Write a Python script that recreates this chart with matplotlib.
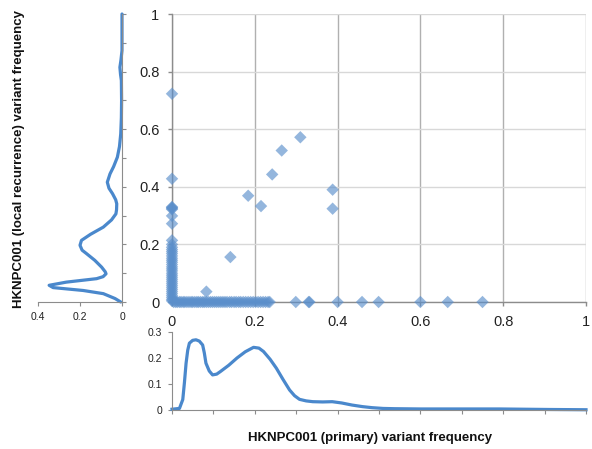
import matplotlib
matplotlib.use("Agg")
import matplotlib.pyplot as plt
from matplotlib.ticker import MultipleLocator

# ---- data ----
# variants with frequency 0 in the primary (column at x = 0)
col_x = [0.0] * 37
col_y = [0.723, 0.428, 0.330, 0.328, 0.325, 0.322, 0.299, 0.272, 0.214, 0.200,
         0.190, 0.182, 0.175, 0.168, 0.160, 0.152, 0.145, 0.138, 0.130, 0.122,
         0.115, 0.108, 0.100, 0.093, 0.086, 0.079, 0.072, 0.065, 0.058, 0.051,
         0.044, 0.037, 0.030, 0.023, 0.016, 0.009, 0.004]
# variants with frequency 0 in the recurrence (row at y = 0)
row_x = [0.004, 0.009, 0.013, 0.018, 0.022, 0.027, 0.031, 0.036, 0.041, 0.046,
         0.050, 0.055, 0.060, 0.064, 0.069, 0.074, 0.078, 0.083, 0.088, 0.093,
         0.098, 0.103, 0.108, 0.113, 0.118, 0.123, 0.128, 0.133, 0.139, 0.144,
         0.150, 0.155, 0.161, 0.166, 0.172, 0.178, 0.184, 0.190, 0.196, 0.202,
         0.208, 0.214, 0.220, 0.226, 0.232, 0.236, 0.299, 0.330, 0.332, 0.400,
         0.459, 0.499, 0.600, 0.666, 0.750]
row_y = [0.0] * 55
# variants present in both samples
both_x = [0.083, 0.141, 0.184, 0.215, 0.242, 0.265, 0.310, 0.388, 0.388]
both_y = [0.036, 0.156, 0.369, 0.333, 0.443, 0.526, 0.572, 0.390, 0.324]

# density of primary variant frequency (bottom panel)
dens_x_grid = [0.000, 0.018, 0.026, 0.030, 0.034, 0.038, 0.042, 0.050, 0.058, 0.066,
               0.074, 0.078, 0.082, 0.090, 0.098, 0.108, 0.117, 0.137, 0.157, 0.177,
               0.197, 0.210, 0.221, 0.237, 0.252, 0.268, 0.284, 0.296, 0.308, 0.324,
               0.340, 0.364, 0.387, 0.410, 0.435, 0.460, 0.483, 0.510, 0.538, 0.600,
               0.673, 0.790, 0.910, 1.000]
dens_x_val = [0.003, 0.006, 0.040, 0.105, 0.180, 0.230, 0.257, 0.268, 0.270, 0.265,
              0.250, 0.220, 0.180, 0.150, 0.135, 0.138, 0.148, 0.172, 0.200, 0.224,
              0.241, 0.238, 0.225, 0.195, 0.161, 0.118, 0.077, 0.055, 0.041, 0.035,
              0.032, 0.031, 0.032, 0.027, 0.019, 0.013, 0.009, 0.006, 0.005, 0.004,
              0.004, 0.004, 0.002, 0.001]

# density of recurrence variant frequency (left panel)
dens_y_grid = [1.000, 0.873, 0.840, 0.815, 0.790, 0.769, 0.699, 0.640, 0.584, 0.540,
               0.503, 0.470, 0.445, 0.416, 0.395, 0.376, 0.355, 0.341, 0.320, 0.306,
               0.285, 0.260, 0.235, 0.214, 0.197, 0.180, 0.168, 0.145, 0.121, 0.105,
               0.098, 0.088, 0.081, 0.069, 0.058, 0.050, 0.040, 0.029, 0.012, 0.000]
dens_y_val = [0.000, 0.000, 0.005, 0.010, 0.007, 0.003, 0.002, 0.003, 0.006, 0.012,
              0.022, 0.040, 0.057, 0.070, 0.062, 0.045, 0.030, 0.025, 0.026, 0.029,
              0.050, 0.089, 0.150, 0.193, 0.200, 0.190, 0.169, 0.130, 0.097, 0.080,
              0.076, 0.090, 0.121, 0.265, 0.347, 0.328, 0.185, 0.089, 0.033, 0.006]

x_label = "HKNPC001 (primary) variant frequency"
y_label = "HKNPC001 (local recurrence) variant frequency"

# ---- style ----
FONT = "Liberation Sans"
plt.rcParams["font.family"] = [FONT, "DejaVu Sans"]
line_col = "#4a88cc"
mark_col = "#5b8fcb"
spine_col = "#8c8c8c"
text_col = "#222222"

fig = plt.figure(figsize=(5.92, 4.49), dpi=100)
W, H = 592.0, 449.0

def rect(l, t, r, b):
    return [l / W, 1 - b / H, (r - l) / W, (b - t) / H]

R = 586

# main scatter
ax = fig.add_axes(rect(172, 14, R, 302))
ax.set_xlim(0, 1)
ax.set_ylim(0, 1)
ax.grid(True, axis="x", color="#b0b0b0", lw=1.0)
ax.grid(True, axis="y", color="#d8d8d8", lw=1.0)
ax.set_axisbelow(True)
for s in ("top", "right"):
    ax.spines[s].set_visible(False)
for s in ("left", "bottom"):
    ax.spines[s].set_color(spine_col)
    ax.spines[s].set_linewidth(1.0)
ax.tick_params(axis="both", colors=spine_col, length=3, width=1, labelsize=10.5,
               labelcolor=text_col, pad=6)
ax.set_xticks([0, 0.2, 0.4, 0.6, 0.8, 1.0])
ax.set_xticklabels(["0", "0.2", "0.4", "0.6", "0.8", "1"])
ax.set_yticks([0, 0.2, 0.4, 0.6, 0.8, 1.0])
ax.set_yticklabels(["0", "0.2", "0.4", "0.6", "0.8", "1"])

kw = dict(marker="D", s=40, color=mark_col, alpha=0.65, edgecolors="none",
          clip_on=False, zorder=3)
ax.scatter(row_x, row_y, **kw)
ax.scatter(col_x, col_y, **kw)
ax.scatter(both_x, both_y, **kw)

# left density
axl = fig.add_axes(rect(38, 14, 122, 302))
axl.plot(dens_y_val, dens_y_grid, color=line_col, lw=2.3, solid_capstyle="round",
         clip_on=False)
axl.set_xlim(0.4, 0)
axl.set_ylim(0, 1)
for s in ("top", "left"):
    axl.spines[s].set_visible(False)
for s in ("right", "bottom"):
    axl.spines[s].set_color(spine_col)
axl.yaxis.tick_right()
axl.yaxis.set_major_locator(MultipleLocator(0.1))
axl.tick_params(axis="y", colors=spine_col, length=3, labelright=False)
axl.set_xticks([0.4, 0.2, 0])
axl.set_xticklabels(["0.4", "0.2", "0"])
axl.tick_params(axis="x", colors=spine_col, length=3, labelsize=7.5,
                labelcolor=text_col, pad=4)

# bottom density
axb = fig.add_axes(rect(172, 332, R, 410))
axb.plot(dens_x_grid, dens_x_val, color=line_col, lw=2.3, clip_on=False)
axb.set_xlim(0, 1)
axb.set_ylim(0, 0.3)
for s in ("top", "right"):
    axb.spines[s].set_visible(False)
for s in ("left", "bottom"):
    axb.spines[s].set_color(spine_col)
axb.xaxis.set_major_locator(MultipleLocator(0.1))
axb.tick_params(axis="x", colors=spine_col, length=3, labelbottom=False)
axb.set_yticks([0, 0.1, 0.2, 0.3])
axb.set_yticklabels(["0", "0.1", "0.2", "0.3"])
axb.tick_params(axis="y", colors=spine_col, length=3, labelsize=7.5,
                labelcolor=text_col, pad=4)

# axis titles
fig.text(370 / W, 1 - 438 / H, x_label, ha="center", va="center",
         fontsize=9.5, fontweight="bold", color="#111111")
fig.text(19 / W, 1 - 159 / H, y_label, ha="center", va="center", rotation=90,
         fontsize=9.5, fontweight="bold", color="#111111")

fig.savefig("out.png", dpi=100)
